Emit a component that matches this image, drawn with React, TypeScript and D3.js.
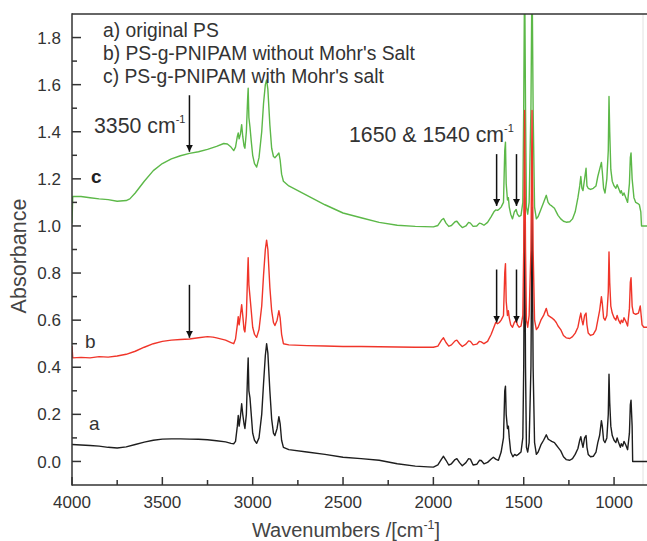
import React from "react";
import * as d3 from "d3";

// ---------- data ----------
const specA: [number, number][] = [
  [4000, 0.072], [3950, 0.07], [3900, 0.068], [3850, 0.065], [3800, 0.06], [3750, 0.057], [3700, 0.062],
  [3650, 0.072], [3600, 0.082], [3550, 0.09], [3500, 0.095], [3450, 0.096], [3400, 0.096], [3350, 0.095],
  [3300, 0.094], [3250, 0.092], [3200, 0.088], [3150, 0.083], [3120, 0.077], [3105, 0.075], [3095, 0.085],
  [3085, 0.15], [3080, 0.195], [3075, 0.15], [3068, 0.19], [3061, 0.245], [3055, 0.2], [3048, 0.16],
  [3043, 0.14], [3035, 0.2], [3028, 0.38], [3025, 0.44], [3021, 0.3], [3015, 0.27], [3008, 0.2],
  [3000, 0.12], [2990, 0.09], [2978, 0.077], [2965, 0.1], [2950, 0.2], [2940, 0.33], [2930, 0.45],
  [2923, 0.5], [2916, 0.46], [2905, 0.3], [2895, 0.18], [2885, 0.12], [2877, 0.11], [2865, 0.14],
  [2855, 0.19], [2848, 0.16], [2840, 0.09], [2830, 0.06], [2800, 0.05], [2700, 0.04], [2600, 0.03],
  [2500, 0.018], [2400, 0.012], [2300, 0.005], [2200, -0.01], [2100, -0.02], [2030, -0.023], [2000, -0.024],
  [1975, -0.015], [1955, 0.01], [1944, 0.022], [1930, 0.005], [1915, -0.015], [1900, -0.01], [1880, 0.008],
  [1870, 0.012], [1855, -0.005], [1840, -0.018], [1820, -0.005], [1805, 0.012], [1795, 0.01], [1780, -0.015],
  [1760, -0.012], [1745, 0.005], [1735, 0.004], [1720, -0.01], [1700, -0.004], [1680, 0.01], [1668, 0.018],
  [1655, 0.01], [1640, 0.005], [1625, 0.04], [1612, 0.1], [1605, 0.3], [1601, 0.32], [1597, 0.2],
  [1590, 0.14], [1585, 0.15], [1580, 0.1], [1572, 0.04], [1560, 0.02], [1550, 0.03], [1540, 0.025],
  [1530, 0.03], [1515, 0.04], [1505, 0.1], [1500, 0.4], [1495, 1.12], [1490, 0.4], [1485, 0.06],
  [1478, 0.04], [1470, 0.08], [1460, 0.4], [1454, 1.08], [1448, 0.4], [1440, 0.08], [1430, 0.03],
  [1420, 0.04], [1405, 0.07], [1390, 0.09], [1375, 0.113], [1365, 0.095], [1355, 0.09], [1345, 0.085],
  [1330, 0.08], [1320, 0.07], [1310, 0.06], [1295, 0.045], [1280, 0.02], [1265, 0.008], [1245, 0.005],
  [1230, 0.012], [1215, 0.03], [1200, 0.055], [1190, 0.09], [1184, 0.105], [1178, 0.08], [1172, 0.06],
  [1163, 0.1], [1155, 0.11], [1150, 0.06], [1143, 0.03], [1130, 0.02], [1115, 0.022], [1100, 0.04],
  [1090, 0.08], [1080, 0.11], [1070, 0.173], [1065, 0.15], [1058, 0.09], [1050, 0.08], [1040, 0.1],
  [1032, 0.2], [1028, 0.37], [1024, 0.25], [1018, 0.15], [1010, 0.11], [1000, 0.09], [990, 0.08],
  [983, 0.1], [975, 0.08], [965, 0.06], [960, 0.075], [952, 0.065], [945, 0.085], [935, 0.07],
  [925, 0.05], [915, 0.12], [910, 0.24], [906, 0.26], [900, 0.15], [897, 0.0], [850, 0.0], [800, 0.0],
];

const specB: [number, number][] = [
  [4000, 0.49], [3996, 0.44], [3950, 0.442], [3900, 0.44], [3850, 0.445], [3800, 0.443], [3750, 0.448],
  [3700, 0.455], [3650, 0.468], [3600, 0.485], [3550, 0.5], [3500, 0.51], [3450, 0.515], [3400, 0.518],
  [3350, 0.52], [3300, 0.525], [3250, 0.53], [3220, 0.528], [3200, 0.525], [3150, 0.515], [3120, 0.505],
  [3105, 0.5], [3095, 0.52], [3085, 0.58], [3080, 0.615], [3075, 0.58], [3068, 0.62], [3061, 0.666],
  [3055, 0.62], [3048, 0.56], [3043, 0.55], [3035, 0.62], [3028, 0.8], [3025, 0.865], [3021, 0.75],
  [3015, 0.7], [3008, 0.64], [3000, 0.57], [2990, 0.54], [2978, 0.527], [2965, 0.56], [2950, 0.66],
  [2940, 0.79], [2930, 0.9], [2923, 0.94], [2916, 0.9], [2905, 0.74], [2895, 0.64], [2885, 0.59],
  [2877, 0.577], [2865, 0.6], [2855, 0.64], [2848, 0.61], [2840, 0.54], [2830, 0.5], [2800, 0.495],
  [2700, 0.492], [2600, 0.49], [2500, 0.488], [2400, 0.488], [2300, 0.487], [2200, 0.486], [2100, 0.485],
  [2000, 0.485], [1975, 0.49], [1955, 0.515], [1944, 0.525], [1930, 0.505], [1915, 0.49], [1900, 0.495],
  [1880, 0.512], [1870, 0.515], [1855, 0.5], [1840, 0.488], [1820, 0.498], [1805, 0.512], [1795, 0.51],
  [1780, 0.495], [1760, 0.498], [1745, 0.51], [1735, 0.508], [1720, 0.5], [1700, 0.51], [1680, 0.54],
  [1665, 0.57], [1655, 0.59], [1645, 0.585], [1635, 0.59], [1625, 0.6], [1612, 0.62], [1605, 0.8],
  [1601, 0.84], [1597, 0.68], [1590, 0.62], [1585, 0.64], [1580, 0.61], [1572, 0.58], [1562, 0.57],
  [1552, 0.59], [1542, 0.6], [1535, 0.58], [1525, 0.57], [1515, 0.575], [1505, 0.62], [1500, 0.9],
  [1495, 1.49], [1490, 0.9], [1485, 0.6], [1478, 0.57], [1470, 0.62], [1460, 0.9], [1454, 1.49],
  [1448, 0.9], [1440, 0.6], [1430, 0.56], [1420, 0.57], [1405, 0.6], [1390, 0.62], [1375, 0.65],
  [1365, 0.62], [1355, 0.615], [1345, 0.61], [1330, 0.6], [1320, 0.59], [1310, 0.575], [1295, 0.56],
  [1280, 0.535], [1265, 0.525], [1245, 0.522], [1230, 0.53], [1215, 0.545], [1200, 0.57], [1190, 0.61],
  [1184, 0.63], [1178, 0.6], [1172, 0.58], [1163, 0.62], [1155, 0.63], [1150, 0.58], [1143, 0.545],
  [1130, 0.535], [1115, 0.54], [1100, 0.56], [1090, 0.6], [1080, 0.64], [1070, 0.7], [1065, 0.67],
  [1058, 0.61], [1050, 0.6], [1040, 0.62], [1032, 0.72], [1028, 0.89], [1024, 0.76], [1018, 0.66],
  [1010, 0.63], [1000, 0.61], [990, 0.6], [983, 0.62], [975, 0.6], [965, 0.585], [960, 0.6],
  [952, 0.59], [945, 0.61], [935, 0.595], [925, 0.575], [915, 0.65], [910, 0.76], [906, 0.78],
  [900, 0.66], [893, 0.63], [880, 0.625], [865, 0.63], [855, 0.66], [850, 0.62], [845, 0.58],
  [835, 0.57], [800, 0.57],
];

const specC: [number, number][] = [
  [4000, 1.01], [3996, 1.125], [3950, 1.125], [3900, 1.12], [3850, 1.115], [3800, 1.112], [3750, 1.105],
  [3700, 1.108], [3680, 1.115], [3650, 1.14], [3600, 1.19], [3550, 1.235], [3500, 1.265], [3450, 1.285],
  [3400, 1.298], [3350, 1.308], [3300, 1.315], [3250, 1.325], [3200, 1.338], [3160, 1.35], [3140, 1.348],
  [3120, 1.335], [3105, 1.32], [3095, 1.335], [3085, 1.38], [3080, 1.395], [3075, 1.37], [3068, 1.39],
  [3061, 1.43], [3055, 1.38], [3048, 1.34], [3043, 1.33], [3035, 1.4], [3028, 1.54], [3025, 1.585],
  [3021, 1.46], [3015, 1.42], [3008, 1.36], [3000, 1.3], [2990, 1.265], [2978, 1.25], [2965, 1.29],
  [2950, 1.4], [2940, 1.52], [2930, 1.6], [2923, 1.62], [2916, 1.58], [2905, 1.43], [2895, 1.33],
  [2885, 1.295], [2877, 1.29], [2865, 1.3], [2855, 1.31], [2848, 1.28], [2840, 1.22], [2830, 1.19],
  [2800, 1.17], [2700, 1.13], [2600, 1.09], [2500, 1.055], [2400, 1.035], [2300, 1.015], [2200, 1.003],
  [2100, 0.998], [2000, 0.996], [1975, 1.002], [1955, 1.025], [1944, 1.032], [1930, 1.012], [1915, 0.998],
  [1900, 1.002], [1880, 1.018], [1870, 1.02], [1855, 1.005], [1840, 0.993], [1820, 1.0], [1805, 1.015],
  [1795, 1.012], [1780, 0.998], [1760, 1.0], [1745, 1.012], [1735, 1.01], [1720, 1.003], [1700, 1.015],
  [1680, 1.04], [1665, 1.06], [1655, 1.068], [1645, 1.066], [1635, 1.072], [1625, 1.08], [1612, 1.1],
  [1605, 1.32], [1601, 1.356], [1597, 1.18], [1590, 1.11], [1585, 1.12], [1580, 1.08], [1572, 1.05],
  [1562, 1.03], [1552, 1.06], [1542, 1.07], [1535, 1.05], [1525, 1.04], [1515, 1.045], [1505, 1.1],
  [1500, 1.5], [1495, 2.1], [1490, 1.5], [1485, 1.08], [1478, 1.05], [1470, 1.1], [1460, 1.5],
  [1454, 2.1], [1448, 1.5], [1440, 1.08], [1430, 1.03], [1420, 1.04], [1405, 1.07], [1390, 1.1],
  [1375, 1.13], [1365, 1.1], [1355, 1.09], [1345, 1.085], [1330, 1.075], [1320, 1.06], [1310, 1.045],
  [1295, 1.03], [1280, 1.02], [1265, 1.016], [1245, 1.018], [1230, 1.03], [1215, 1.06], [1200, 1.12],
  [1190, 1.17], [1184, 1.21], [1178, 1.16], [1172, 1.15], [1163, 1.2], [1155, 1.245], [1150, 1.17],
  [1143, 1.16], [1130, 1.155], [1115, 1.16], [1100, 1.17], [1090, 1.21], [1080, 1.24], [1070, 1.27],
  [1065, 1.23], [1058, 1.16], [1050, 1.14], [1040, 1.2], [1032, 1.32], [1028, 1.55], [1024, 1.4],
  [1018, 1.24], [1010, 1.19], [1000, 1.17], [990, 1.16], [983, 1.175], [975, 1.16], [965, 1.14],
  [960, 1.15], [952, 1.13], [945, 1.14], [935, 1.12], [925, 1.1], [915, 1.18], [910, 1.29],
  [906, 1.31], [900, 1.2], [890, 1.12], [880, 1.1], [868, 1.095], [860, 1.09], [852, 1.06],
  [848, 1.0], [800, 1.0],
];

const legendLines = [
  "a) original PS",
  "b) PS-g-PNIPAM without Mohr's Salt",
  "c) PS-g-PNIPAM with Mohr's salt",
];
const xMajorTicks = [4000, 3500, 3000, 2500, 2000, 1500, 1000];
const xMinorTicks = [3750, 3250, 2750, 2250, 1750, 1250, 750];
const yMajorTicks = [0.0, 0.2, 0.4, 0.6, 0.8, 1.0, 1.2, 1.4, 1.6, 1.8];
const yMinorTicks = [0.1, 0.3, 0.5, 0.7, 0.9, 1.1, 1.3, 1.5, 1.7];

// arrows: [wavenumber, from value, to value]
const arrows: [number, number, number][] = [
  [3350, 1.555, 1.315],
  [3350, 0.75, 0.525],
  [1650, 1.305, 1.085],
  [1540, 1.305, 1.085],
  [1650, 0.815, 0.59],
  [1540, 0.815, 0.59],
];

export default function App() {
  const W = 647;
  const H = 541;
  const x = d3.scaleLinear().domain([4000, 800]).range([72, 650.2]);
  const y = d3.scaleLinear().domain([-0.1, 1.9]).range([485, 14]);
  const line = d3
    .line<[number, number]>()
    .x((d) => x(d[0]))
    .y((d) => y(d[1]))
    .curve(d3.curveLinear);

  const font = "'Liberation Sans', Arial, sans-serif";
  const axisColor = "#333";
  const textColor = "#333";

  return (
    <svg
      width={W}
      height={H}
      style={{ position: "absolute", left: 0, top: 0, background: "#fff" }}
      fontFamily={font}
    >
      <defs>
        <clipPath id="plotClip">
          <rect x={72} y={14} width={W - 72} height={485 - 14} />
        </clipPath>
        <marker
          id="arrowHead"
          viewBox="0 0 10 10"
          refX={10}
          refY={5}
          markerWidth={7}
          markerHeight={7}
          markerUnits="userSpaceOnUse"
          orient="auto"
        >
          <path d="M0,0 L10,5 L0,10 z" fill="#111" />
        </marker>
      </defs>

      {/* light right edge */}
      <line x1={643} x2={643} y1={14} y2={485} stroke="#e2e2e2" strokeWidth={1} />

      {/* spectra */}
      <g clipPath="url(#plotClip)" fill="none" strokeLinejoin="round">
        <path d={line(specA) || ""} stroke="#1e1e1e" strokeWidth={1.4} />
        <path d={line(specC) || ""} stroke="#5cb848" strokeWidth={1.4} />
        <path d={line(specB) || ""} stroke="#f0352a" strokeWidth={1.4} />
      </g>

      {/* frame */}
      <line x1={72} x2={72} y1={13.25} y2={485.75} stroke={axisColor} strokeWidth={1.5} />
      <line x1={72} x2={W} y1={485} y2={485} stroke={axisColor} strokeWidth={1.5} />
      <line x1={72} x2={W} y1={14} y2={14} stroke={axisColor} strokeWidth={1.5} />

      {/* y ticks */}
      {yMajorTicks.map((t) => (
        <g key={"ym" + t}>
          <line x1={72} x2={81} y1={y(t)} y2={y(t)} stroke={axisColor} strokeWidth={1.5} />
          <text
            x={61}
            y={y(t)}
            dy="0.36em"
            textAnchor="end"
            fontSize={17}
            fill={textColor}
          >
            {t.toFixed(1)}
          </text>
        </g>
      ))}
      {yMinorTicks.map((t) => (
        <line key={"yn" + t} x1={72} x2={77} y1={y(t)} y2={y(t)} stroke={axisColor} strokeWidth={1.5} />
      ))}

      {/* x ticks */}
      {xMajorTicks.map((t) => (
        <g key={"xm" + t}>
          <line x1={x(t)} x2={x(t)} y1={485} y2={477} stroke={axisColor} strokeWidth={1.5} />
          <text x={x(t)} y={508} textAnchor="middle" fontSize={17} fill={textColor}>
            {t}
          </text>
        </g>
      ))}
      {xMinorTicks.map((t) => (
        <line key={"xn" + t} x1={x(t)} x2={x(t)} y1={485} y2={480} stroke={axisColor} strokeWidth={1.5} />
      ))}

      {/* axis titles */}
      <text
        transform="translate(26,256) rotate(-90)"
        textAnchor="middle"
        fontSize={21.5}
        fill="#444"
      >
        Absorbance
      </text>
      <text x={346} y={537} textAnchor="middle" fontSize={20} fill="#444">
        Wavenumbers /[cm
        <tspan fontSize={12.5} dy={-8}>-1</tspan>
        <tspan dy={8}>]</tspan>
      </text>

      {/* legend */}
      {legendLines.map((s, i) => (
        <text key={s} x={103} y={37 + i * 23} fontSize={19.3} fill={textColor}>
          {s}
        </text>
      ))}

      {/* series labels */}
      <text x={91} y={183} fontSize={19} fontWeight="bold" fill="#222">c</text>
      <text x={85} y={348} fontSize={19} fill={textColor}>b</text>
      <text x={89} y={430} fontSize={19} fill={textColor}>a</text>

      {/* annotations */}
      <text x={94} y={133} fontSize={21.3} fill={textColor}>
        3350 cm
        <tspan fontSize={11} dy={-10}>-1</tspan>
      </text>
      <text x={349} y={142} fontSize={21.3} fill={textColor}>
        1650 &amp; 1540 cm
        <tspan fontSize={11} dy={-10}>-1</tspan>
      </text>

      {arrows.map(([wn, v0, v1], i) => (
        <line
          key={"ar" + i}
          x1={x(wn)}
          x2={x(wn)}
          y1={y(v0)}
          y2={y(v1)}
          stroke="#111"
          strokeWidth={1.5}
          markerEnd="url(#arrowHead)"
        />
      ))}
    </svg>
  );
}
